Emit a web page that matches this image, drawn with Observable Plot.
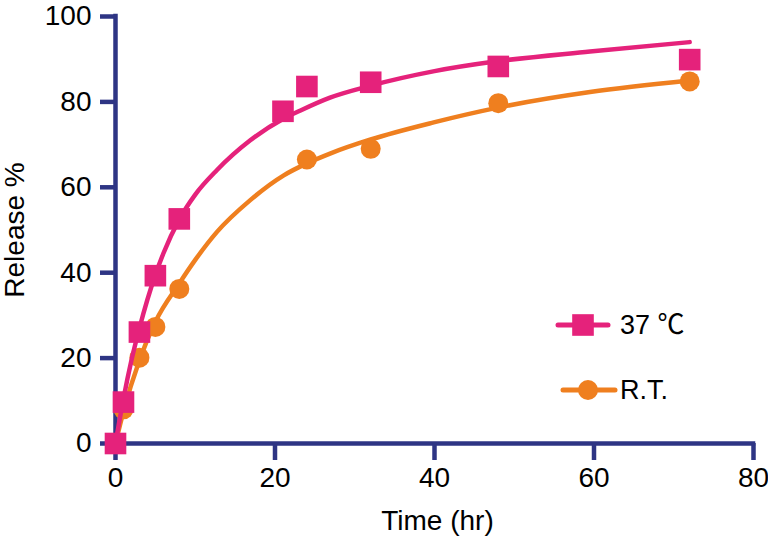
<!DOCTYPE html>
<html>
<head>
<meta charset="utf-8">
<script src="https://cdn.jsdelivr.net/npm/d3@7"></script>
<script src="https://cdn.jsdelivr.net/npm/@observablehq/plot@0.6"></script>
<style>
  html, body { margin: 0; padding: 0; background: #fff; }
  #wrap { position: relative; width: 768px; height: 544px; }
  #legend { position: absolute; left: 0; top: 0; pointer-events: none; }
</style>
</head>
<body>
<div id="wrap"></div>
<script>
// ---- data ----
const xTicks = [0, 20, 40, 60, 80];
const yTicks = [0, 20, 40, 60, 80, 100];

const seriesNames = ["37 \u2103", "R.T."];
const seriesColors = ["#e5227b", "#ef7f1f"];
const seriesSymbols = ["square", "circle"];

// measured points
const time37 = [0, 1, 3, 5, 8, 21, 24, 32, 48, 72];
const release37 = [0, 9.7, 26.1, 39.3, 52.6, 77.8, 83.6, 84.6, 88.3, 89.9];
const timeRT = [0, 1, 3, 5, 8, 24, 32, 48, 72];
const releaseRT = [0, 8, 20.1, 27.3, 36.2, 66.5, 69.0, 79.7, 84.8];

// fitted curves
const fitTime37 = [0, 1, 2, 3, 5, 6, 8, 10, 12.7, 16.9, 21, 23.2, 26.9, 32, 40, 47.8, 59.5, 72];
const fit37 = [0, 10.5, 19.5, 27, 39.5, 44.5, 52.5, 58.3, 64, 71, 76, 78, 81, 83.8, 87.2, 89.5, 91.8, 94];
const fitTimeRT = [0, 1, 3, 5, 8, 10, 12.7, 16.9, 21.1, 24, 26.9, 32, 39.9, 47.8, 59.5, 72];
const fitRT = [0, 7.5, 19.5, 28.5, 37.5, 43, 49.5, 57, 62.8, 65.6, 67.9, 71.2, 75.2, 78.6, 82.3, 85];

const xLabel = "Time (hr)";
const yLabel = "Release %";

// ---- build tables ----
const pts37 = time37.map((t, i) => ({t, v: release37[i]}));
const ptsRT = timeRT.map((t, i) => ({t, v: releaseRT[i]}));
const curve37 = fitTime37.map((t, i) => ({t, v: fit37[i]}));
const curveRT = fitTimeRT.map((t, i) => ({t, v: fitRT[i]}));

const navy = "#2e3584";
const font = "'Liberation Sans', Arial, 'Noto Sans CJK SC', sans-serif";
const fs = 28;

const chart = Plot.plot({
  width: 768,
  height: 544,
  marginLeft: 115,
  marginRight: 15,
  marginTop: 16,
  marginBottom: 101,
  x: {domain: [0, 80]},
  y: {domain: [0, 100]},
  style: {fontFamily: font, fontSize: fs + "px", color: "black", background: "white", overflow: "visible"},
  marks: [
    Plot.ruleY([0], {x1: 0, x2: 80, stroke: navy, strokeWidth: 4.5, strokeLinecap: "square"}),
    Plot.ruleX([0], {y1: 0, y2: 100, stroke: navy, strokeWidth: 4.5, strokeLinecap: "square"}),
    Plot.axisY(yTicks, {anchor: "left", tickSize: 15, tickPadding: 9, stroke: navy, strokeWidth: 4.5, fill: "black", fontSize: fs, label: null, tickFormat: d => String(d)}),
    Plot.axisX(xTicks, {anchor: "bottom", tickSize: 17, tickPadding: 7, stroke: navy, strokeWidth: 4.5, fill: "black", fontSize: fs, label: null, tickFormat: d => String(d)}),
    Plot.line(curveRT, {x: "t", y: "v", curve: "monotone-x", stroke: seriesColors[1], strokeWidth: 4.5, strokeLinecap: "round"}),
    Plot.dot(ptsRT, {x: "t", y: "v", symbol: seriesSymbols[1], r: 10, fill: seriesColors[1], stroke: null}),
    Plot.line(curve37, {x: "t", y: "v", curve: "monotone-x", stroke: seriesColors[0], strokeWidth: 4.5, strokeLinecap: "round"}),
    Plot.dot(pts37, {x: "t", y: "v", symbol: seriesSymbols[0], r: 12.2, fill: seriesColors[0], stroke: null}),
    Plot.text([xLabel], {frameAnchor: "bottom", dy: 78, dx: 3, fontSize: fs, fill: "black", textAnchor: "middle", lineAnchor: "middle"}),
    Plot.text([yLabel], {frameAnchor: "left", dx: -100, rotate: -90, fontSize: fs, fill: "black", textAnchor: "middle", lineAnchor: "middle"})
  ]
});

const wrap = document.getElementById("wrap");
wrap.appendChild(chart);

// ---- legend overlay ----
const legendRows = [
  {x1: 558, x2: 608, cx: 583, y: 325, tx: 620, r: 12.2},
  {x1: 563, x2: 615, cx: 588, y: 390, tx: 620, r: 10}
];
const svg = d3.select(wrap).append("svg")
  .attr("id", "legend").attr("width", 768).attr("height", 544);
seriesNames.forEach((name, i) => {
  const row = legendRows[i];
  const g = svg.append("g");
  g.append("line").attr("x1", row.x1).attr("x2", row.x2).attr("y1", row.y).attr("y2", row.y)
    .attr("stroke", seriesColors[i]).attr("stroke-width", 5).attr("stroke-linecap", "round");
  const sym = seriesSymbols[i] === "square" ? d3.symbolSquare : d3.symbolCircle;
  g.append("path").attr("d", d3.symbol(sym, Math.PI * row.r * row.r)())
    .attr("transform", `translate(${row.cx},${row.y})`).attr("fill", seriesColors[i]);
  g.append("text").attr("x", row.tx).attr("y", row.y).attr("dy", "0.35em")
    .attr("font-family", font).attr("font-size", 27).attr("fill", "black").text(name);
});
</script>
</body>
</html>
